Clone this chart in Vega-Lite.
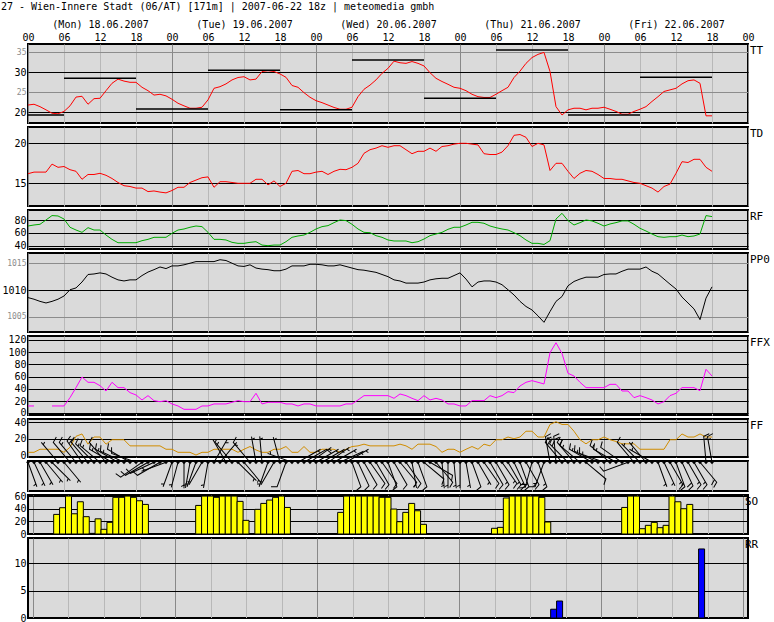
{
"$schema": "https://vega.github.io/schema/vega-lite/v6.json",
"padding": {"left": 0, "top": 2, "right": 0, "bottom": 0},
"background": "white",
"bounds": "flush",
"title": {"text": "27 - Wien-Innere Stadt (06/AT) [171m]  | 2007-06-22 18z | meteomedia gmbh", "anchor": "start", "frame": "bounds", "font": "DejaVu Sans Mono", "fontSize": 10, "fontWeight": "normal", "color": "#000000", "offset": 6},
"config": {
 "font": "DejaVu Sans Mono",
 "view": {"fill": "#dadada", "stroke": "#000000", "strokeWidth": 2},
 "axis": {"labelFontSize": 10, "labelColor": "#000000", "labelPadding": 2, "gridWidth": 1, "gridOpacity": 1}
},
"spacing": 4,
"datasets": {
"mm": [{"a":0,"b":6,"t":19.3},{"a":6,"b":18,"t":28.5},{"a":18,"b":30,"t":20.8},{"a":30,"b":42,"t":30.5},{"a":42,"b":54,"t":20.6},{"a":54,"b":66,"t":33.1},{"a":66,"b":78,"t":23.5},{"a":78,"b":90,"t":35.6},{"a":90,"b":102,"t":19.3},{"a":102,"b":114,"t":28.75}],
"met": [
{"h":0,"tt":21.8,"td":16.2,"rf":71,"pp":1008.6,"fx":12,"ff":4,"dd":160},
{"h":1,"tt":22.0,"td":16.4,"rf":72.6,"pp":1008.3,"fx":12,"ff":4,"dd":155},
{"h":2,"tt":21.4,"td":16.4,"rf":73.7,"pp":1007.9,"fx":null,"ff":7.6,"dd":150},
{"h":3,"tt":20.6,"td":16.4,"rf":80.5,"pp":1007.6,"fx":null,"ff":7.6,"dd":140},
{"h":4,"tt":19.75,"td":17.4,"rf":87.4,"pp":1007.9,"fx":12,"ff":7.6,"dd":135,"so":31},
{"h":5,"tt":19.6,"td":17.0,"rf":86.8,"pp":1008.3,"fx":12,"ff":7.6,"dd":320,"so":41.6},
{"h":6,"tt":20.2,"td":17.1,"rf":82,"pp":1008.9,"fx":12,"ff":4,"dd":140,"so":60},
{"h":7,"tt":21.6,"td":16.7,"rf":69,"pp":1010.06,"fx":25.6,"ff":10,"dd":320,"so":32},
{"h":8,"tt":23.8,"td":16.5,"rf":64.7,"pp":1010.4,"fx":42,"ff":22.8,"dd":320,"so":51},
{"h":9,"tt":24.0,"td":15.5,"rf":61,"pp":1011.5,"fx":59.4,"ff":25.6,"dd":325,"so":27.4},
{"h":10,"tt":22.0,"td":16.1,"rf":68.4,"pp":1012.9,"fx":50.7,"ff":13.6,"dd":320,"so":1},
{"h":11,"tt":23.4,"td":16.1,"rf":64.7,"pp":1013.0,"fx":50.7,"ff":22,"dd":315,"so":24},
{"h":12,"tt":23.5,"td":16.25,"rf":64.7,"pp":1013.2,"fx":45.2,"ff":22,"dd":310,"so":7.4},
{"h":13,"tt":25.4,"td":16.0,"rf":56.8,"pp":1013.0,"fx":36.5,"ff":13.6,"dd":320,"so":18.4},
{"h":14,"tt":27.25,"td":15.6,"rf":50,"pp":1012.4,"fx":50.7,"ff":18.8,"dd":300,"so":58},
{"h":15,"tt":28.3,"td":15.1,"rf":44.7,"pp":1011.9,"fx":42,"ff":18.8,"dd":300,"so":58},
{"h":16,"tt":27.8,"td":14.7,"rf":44.7,"pp":1011.7,"fx":42,"ff":18.8,"dd":295,"so":60},
{"h":17,"tt":27.5,"td":14.6,"rf":44.7,"pp":1011.9,"fx":33.8,"ff":11.6,"dd":300,"so":58},
{"h":18,"tt":27.5,"td":14.4,"rf":44.7,"pp":1011.9,"fx":30,"ff":11.6,"dd":290,"so":52.6},
{"h":19,"tt":26.25,"td":14.4,"rf":47.9,"pp":1012.7,"fx":21.8,"ff":11.6,"dd":235,"so":46.8},
{"h":20,"tt":25.4,"td":13.96,"rf":50,"pp":1013.35,"fx":28.9,"ff":11.6,"dd":240},
{"h":21,"tt":24.3,"td":14.04,"rf":53.2,"pp":1013.8,"fx":20.7,"ff":11.6,"dd":245},
{"h":22,"tt":24.5,"td":13.9,"rf":53.2,"pp":1014.3,"fx":19,"ff":11.6,"dd":240},
{"h":23,"tt":24.1,"td":13.8,"rf":53.2,"pp":1014.0,"fx":20.7,"ff":7.6,"dd":250},
{"h":24,"tt":23.25,"td":14.1,"rf":59.5,"pp":1014.5,"fx":15.3,"ff":7.6,"dd":200},
{"h":25,"tt":22.25,"td":14.5,"rf":64.7,"pp":1014.5,"fx":12,"ff":4,"dd":195},
{"h":26,"tt":21.6,"td":14.5,"rf":66.3,"pp":1014.7,"fx":6.5,"ff":4,"dd":180},
{"h":27,"tt":21.0,"td":15.1,"rf":69,"pp":1015.0,"fx":6.5,"ff":4,"dd":190},
{"h":28,"tt":21.0,"td":15.4,"rf":71,"pp":1015.3,"fx":6.5,"ff":0.8,"dd":200,"so":45.2},
{"h":29,"tt":21.25,"td":15.7,"rf":70,"pp":1015.3,"fx":12,"ff":4,"dd":210,"so":60},
{"h":30,"tt":23.1,"td":15.8,"rf":61,"pp":1015.3,"fx":12,"ff":4,"dd":190,"so":60},
{"h":31,"tt":26.0,"td":14.5,"rf":50,"pp":1015.3,"fx":15.3,"ff":7.6,"dd":30,"so":58},
{"h":32,"tt":26.4,"td":15.2,"rf":50,"pp":1015.65,"fx":15.3,"ff":7.6,"dd":40,"so":60},
{"h":33,"tt":27.1,"td":15.2,"rf":49,"pp":1015.5,"fx":15.3,"ff":7.6,"dd":330,"so":60},
{"h":34,"tt":28.1,"td":15.1,"rf":45.3,"pp":1015.0,"fx":18,"ff":7.6,"dd":320,"so":60},
{"h":35,"tt":28.7,"td":15.0,"rf":43.7,"pp":1014.5,"fx":20.7,"ff":4,"dd":135,"so":51.6},
{"h":36,"tt":28.9,"td":15.0,"rf":43.7,"pp":1014.4,"fx":19,"ff":7.6,"dd":140,"so":21.6},
{"h":37,"tt":28.1,"td":15.0,"rf":45.3,"pp":1014.7,"fx":19,"ff":10.8,"dd":320},
{"h":38,"tt":28.3,"td":15.5,"rf":46.3,"pp":1014.1,"fx":32.7,"ff":6.8,"dd":350,"so":39},
{"h":39,"tt":30.2,"td":15.5,"rf":41,"pp":1013.9,"fx":15.3,"ff":4,"dd":355,"so":48.4},
{"h":40,"tt":30.4,"td":14.8,"rf":40,"pp":1013.8,"fx":18,"ff":4,"dd":200,"so":53.7},
{"h":41,"tt":30.2,"td":15.3,"rf":41,"pp":1013.6,"fx":18,"ff":7.6,"dd":210,"so":58},
{"h":42,"tt":29.6,"td":14.6,"rf":41,"pp":1013.6,"fx":18,"ff":7.6,"dd":345,"so":60},
{"h":43,"tt":28.75,"td":15.0,"rf":46.3,"pp":1013.9,"fx":15.3,"ff":10.8,"dd":200,"so":42},
{"h":44,"tt":26.7,"td":16.5,"rf":53.2,"pp":1014.5,"fx":15.3,"ff":4,"dd":290},
{"h":45,"tt":26.25,"td":16.6,"rf":55.3,"pp":1014.5,"fx":12,"ff":4,"dd":60},
{"h":46,"tt":24.9,"td":16.2,"rf":56.8,"pp":1014.5,"fx":15.3,"ff":10.8,"dd":60},
{"h":47,"tt":23.75,"td":16.2,"rf":61,"pp":1014.8,"fx":15.3,"ff":4,"dd":55},
{"h":48,"tt":22.9,"td":16.4,"rf":66.3,"pp":1014.8,"fx":12,"ff":4,"dd":60},
{"h":49,"tt":22.4,"td":16.5,"rf":70,"pp":1014.7,"fx":12,"ff":7.6,"dd":60},
{"h":50,"tt":21.8,"td":16.1,"rf":71.6,"pp":1014.5,"fx":12,"ff":7.6,"dd":55},
{"h":51,"tt":21.2,"td":16.5,"rf":76.3,"pp":1014.5,"fx":12,"ff":7.6,"dd":60},
{"h":52,"tt":20.75,"td":16.75,"rf":80.5,"pp":1014.7,"fx":12,"ff":4,"dd":65,"so":34.2},
{"h":53,"tt":20.75,"td":16.7,"rf":79.5,"pp":1014.4,"fx":15.3,"ff":7.6,"dd":60,"so":60},
{"h":54,"tt":21.25,"td":17.0,"rf":73.7,"pp":1014.1,"fx":15.3,"ff":10.8,"dd":160,"so":60},
{"h":55,"tt":23.9,"td":17.5,"rf":66.3,"pp":1013.8,"fx":21.8,"ff":11.6,"dd":155,"so":60},
{"h":56,"tt":25.75,"td":18.75,"rf":61,"pp":1013.7,"fx":28.9,"ff":13.6,"dd":150,"so":60},
{"h":57,"tt":26.8,"td":19.2,"rf":60.5,"pp":1013.5,"fx":28.9,"ff":11.6,"dd":145,"so":60},
{"h":58,"tt":28.1,"td":19.4,"rf":55.8,"pp":1013.3,"fx":28.9,"ff":11.6,"dd":150,"so":60},
{"h":59,"tt":29.75,"td":19.7,"rf":53.2,"pp":1012.9,"fx":28.9,"ff":11.6,"dd":145,"so":58},
{"h":60,"tt":31.0,"td":19.5,"rf":49,"pp":1012.5,"fx":28.9,"ff":11.6,"dd":160,"so":58},
{"h":61,"tt":32.8,"td":19.7,"rf":47.4,"pp":1011.9,"fx":24.5,"ff":11.6,"dd":150,"so":39.5},
{"h":62,"tt":32.4,"td":19.7,"rf":47.4,"pp":1011.7,"fx":31.6,"ff":13.6,"dd":140,"so":19.5},
{"h":63,"tt":32.25,"td":19.2,"rf":47.4,"pp":1011.3,"fx":28.9,"ff":11.6,"dd":145,"so":34.2},
{"h":64,"tt":32.7,"td":18.7,"rf":44.7,"pp":1011.3,"fx":24.5,"ff":7.6,"dd":170,"so":48.4},
{"h":65,"tt":32.25,"td":19.0,"rf":46.3,"pp":1011.3,"fx":20.7,"ff":13.6,"dd":160,"so":36.8},
{"h":66,"tt":31.6,"td":19.0,"rf":50.5,"pp":1011.5,"fx":28.9,"ff":13.6,"dd":130,"so":15.3},
{"h":67,"tt":29.9,"td":19.4,"rf":55.8,"pp":1011.9,"fx":21.8,"ff":13.6,"dd":120},
{"h":68,"tt":28.5,"td":19.0,"rf":58.4,"pp":1012.1,"fx":24.5,"ff":10.8,"dd":140},
{"h":69,"tt":27.7,"td":19.6,"rf":61,"pp":1012.2,"fx":21.8,"ff":4,"dd":175},
{"h":70,"tt":27.0,"td":19.7,"rf":65.8,"pp":1012.2,"fx":15.3,"ff":7.6,"dd":180},
{"h":71,"tt":26.25,"td":19.9,"rf":69,"pp":1012.7,"fx":15.3,"ff":7.6,"dd":175},
{"h":72,"tt":26.0,"td":20.0,"rf":69,"pp":1013.2,"fx":12,"ff":4,"dd":180},
{"h":73,"tt":25.4,"td":20.0,"rf":72.6,"pp":1012.05,"fx":12,"ff":7.6,"dd":170},
{"h":74,"tt":24.5,"td":19.9,"rf":76.8,"pp":1010.6,"fx":20.7,"ff":10.8,"dd":160},
{"h":75,"tt":23.9,"td":19.8,"rf":76.8,"pp":1011.5,"fx":20.7,"ff":7.6,"dd":150},
{"h":76,"tt":23.7,"td":18.7,"rf":75.3,"pp":1011.7,"fx":20.7,"ff":13.6,"dd":145},
{"h":77,"tt":23.7,"td":18.6,"rf":71,"pp":1011.7,"fx":28.9,"ff":11.6,"dd":150},
{"h":78,"tt":24.5,"td":18.6,"rf":68.4,"pp":1011.5,"fx":25.6,"ff":18.8,"dd":150,"so":9},
{"h":79,"tt":25.4,"td":18.9,"rf":66.3,"pp":1011.0,"fx":28.9,"ff":18.8,"dd":145,"so":10.5},
{"h":80,"tt":26.25,"td":19.7,"rf":64.7,"pp":1010.06,"fx":35.4,"ff":22,"dd":150,"so":57},
{"h":81,"tt":28.7,"td":21.0,"rf":60.5,"pp":1009.1,"fx":33.8,"ff":20,"dd":155,"so":60},
{"h":82,"tt":30.3,"td":21.1,"rf":55.8,"pp":1007.9,"fx":44.7,"ff":22,"dd":160,"so":60},
{"h":83,"tt":32.25,"td":20.75,"rf":49,"pp":1006.95,"fx":50.7,"ff":28.8,"dd":150,"so":60},
{"h":84,"tt":33.7,"td":19.6,"rf":43.7,"pp":1006.3,"fx":53.4,"ff":28.8,"dd":195,"so":60},
{"h":85,"tt":34.5,"td":20.0,"rf":43.7,"pp":1005.2,"fx":50.7,"ff":22,"dd":160,"so":60},
{"h":86,"tt":35.0,"td":19.8,"rf":42,"pp":1004.0,"fx":48,"ff":22,"dd":200,"so":58},
{"h":87,"tt":30.2,"td":16.6,"rf":47.9,"pp":1006.0,"fx":99.2,"ff":36.8,"dd":350,"so":19},
{"h":88,"tt":21.4,"td":17.5,"rf":82,"pp":1007.9,"fx":115.5,"ff":40,"dd":355,"rr":1.6},
{"h":89,"tt":19.3,"td":17.5,"rf":91,"pp":1008.8,"fx":98,"ff":36.8,"dd":320,"rr":3.1},
{"h":90,"tt":20.6,"td":16.5,"rf":79.5,"pp":1010.8,"fx":65.4,"ff":36.8,"dd":315},
{"h":91,"tt":21.0,"td":15.6,"rf":72.6,"pp":1011.6,"fx":61,"ff":28.8,"dd":320},
{"h":92,"tt":21.0,"td":16.25,"rf":76.3,"pp":1012.05,"fx":50.7,"ff":18.8,"dd":310},
{"h":93,"tt":20.6,"td":16.6,"rf":80.5,"pp":1012.4,"fx":42,"ff":14,"dd":130},
{"h":94,"tt":21.0,"td":16.5,"rf":79,"pp":1012.4,"fx":42,"ff":18.8,"dd":300},
{"h":95,"tt":21.0,"td":16.1,"rf":75.3,"pp":1012.4,"fx":42,"ff":18.8,"dd":295},
{"h":96,"tt":21.25,"td":15.6,"rf":71,"pp":1012.9,"fx":42,"ff":22,"dd":290},
{"h":97,"tt":20.75,"td":15.6,"rf":74.2,"pp":1013.0,"fx":47.4,"ff":18.8,"dd":310},
{"h":98,"tt":20.2,"td":15.5,"rf":76.3,"pp":1013.0,"fx":47.4,"ff":16.8,"dd":300},
{"h":99,"tt":19.5,"td":15.5,"rf":79,"pp":1013.5,"fx":36.5,"ff":14,"dd":305},
{"h":100,"tt":19.5,"td":15.3,"rf":79,"pp":1013.9,"fx":36.5,"ff":14,"dd":250,"so":42},
{"h":101,"tt":20.2,"td":15.1,"rf":73.7,"pp":1013.9,"fx":25.6,"ff":14,"dd":320,"so":60},
{"h":102,"tt":20.75,"td":15.0,"rf":67.4,"pp":1013.9,"fx":28.9,"ff":7.6,"dd":315,"so":60},
{"h":103,"tt":21.4,"td":14.7,"rf":63.1,"pp":1014.3,"fx":25.6,"ff":7.6,"dd":320,"so":8.4},
{"h":104,"tt":22.7,"td":14.4,"rf":58.4,"pp":1013.5,"fx":21.8,"ff":7.6,"dd":300,"so":13.7},
{"h":105,"tt":23.9,"td":13.9,"rf":54.2,"pp":1013.0,"fx":15.3,"ff":7.6,"dd":160,"so":18.4},
{"h":106,"tt":25.2,"td":14.6,"rf":53.2,"pp":1012.05,"fx":19,"ff":7.6,"dd":155,"so":10},
{"h":107,"tt":25.6,"td":14.9,"rf":54.2,"pp":1011.1,"fx":28.9,"ff":18.8,"dd":150,"so":13.7},
{"h":108,"tt":26.0,"td":16.25,"rf":54.2,"pp":1010.2,"fx":32.7,"ff":18.8,"dd":160,"so":60},
{"h":109,"tt":27.1,"td":17.7,"rf":56.8,"pp":1008.7,"fx":42,"ff":25.6,"dd":155,"so":51},
{"h":110,"tt":27.9,"td":17.6,"rf":54.2,"pp":1007.6,"fx":42,"ff":22,"dd":150,"so":40},
{"h":111,"tt":28.1,"td":18.0,"rf":55.3,"pp":1006.5,"fx":42,"ff":22,"dd":150,"so":46.8},
{"h":112,"tt":27.25,"td":18.0,"rf":58.4,"pp":1004.5,"fx":37,"ff":25.6,"dd":140},
{"h":113,"tt":19.1,"td":17.0,"rf":87.4,"pp":1008.5,"fx":72,"ff":22,"dd":355,"rr":12.6},
{"h":114,"tt":19.1,"td":16.5,"rf":85.8,"pp":1010.6,"fx":61,"ff":22,"dd":350}
]},
"vconcat": [
{"width": 720, "height": 79, "data": {"name": "met"},
 "layer": [
  {"mark": {"type": "line", "color": "#ff0000", "strokeWidth": 1},
   "encoding": {
    "x": {"field": "h", "type": "quantitative", "scale": {"domain": [0, 120], "nice": false, "zero": false},
      "axis": {"orient": "top", "tickCount": 200, "values": [0,6,12,18,24,30,36,42,48,54,60,66,72,78,84,90,96,102,108,114,120], "labelExpr": "datum.value % 24 === 12 ? [['(Mon) 18.06.2007','(Tue) 19.06.2007','(Wed) 20.06.2007','(Thu) 21.06.2007','(Fri) 22.06.2007'][floor(datum.value / 24)], '12'] : ['', ((datum.value % 24) < 10 ? '0' : '') + (datum.value % 24)]", "labelFlush": false, "labelOverlap": false, "labelBound": false, "labelPadding": 15, "labelLineHeight": 13, "ticks": false, "domain": false, "title": null, "grid": true, "gridColor": {"condition": {"test": "datum.value % 24 === 0", "value": "#888888"}, "value": "#b8b8b8"}}},
    "y": {"field": "tt", "type": "quantitative", "scale": {"domain": [17.3, 37.1], "nice": false, "zero": false},
      "axis": {"values": [20, 25, 30, 35], "format": "d", "tickCount": 200, "labelOverlap": false, "title": null, "ticks": false, "domain": false, "grid": true, "minExtent": 26, "maxExtent": 26,
        "gridColor": {"condition": {"test": "datum.value % 10 === 5", "value": "#8c8c8c"}, "value": "#000000"},
        "labelColor": {"condition": {"test": "datum.value % 10 === 5", "value": "#8c8c8c"}, "value": "#000000"},
        "labelFontSize": {"condition": {"test": "datum.value % 10 === 5", "value": 8}, "value": 10}}}
   }},
  {"data": {"name": "mm"}, "mark": {"type": "rule", "color": "#000000", "strokeWidth": 1.5},
   "encoding": {"x": {"field": "a", "type": "quantitative"}, "x2": {"field": "b"}, "y": {"field": "t", "type": "quantitative"}}},
  {"data": {"values": [{"t": "TT"}]}, "mark": {"type": "text", "align": "left", "baseline": "top", "dx": 2, "dy": 1, "fontSize": 11, "color": "#000000"},
   "encoding": {"x": {"datum": 120}, "y": {"datum": 37.1}, "text": {"field": "t", "type": "nominal"}}}
 ]},
{"width": 720, "height": 79, "data": {"name": "met"},
 "layer": [
  {"mark": {"type": "line", "color": "#ff0000", "strokeWidth": 1},
   "encoding": {
    "x": {"field": "h", "type": "quantitative", "scale": {"domain": [0, 120], "nice": false, "zero": false},
      "axis": {"tickCount": 200, "values": [0,6,12,18,24,30,36,42,48,54,60,66,72,78,84,90,96,102,108,114,120], "labels": false, "ticks": false, "domain": false, "title": null, "grid": true, "gridColor": {"condition": {"test": "datum.value % 24 === 0", "value": "#888888"}, "value": "#b8b8b8"}}},
    "y": {"field": "td", "type": "quantitative", "scale": {"domain": [12.16, 22.04], "nice": false, "zero": false},
      "axis": {"values": [15, 20], "format": "d", "tickCount": 200, "labelOverlap": false, "title": null, "ticks": false, "domain": false, "grid": true, "gridColor": "#000000", "minExtent": 26, "maxExtent": 26}}
   }},
  {"data": {"values": [{"t": "TD"}]}, "mark": {"type": "text", "align": "left", "baseline": "top", "dx": 2, "dy": 1, "fontSize": 11, "color": "#000000"},
   "encoding": {"x": {"datum": 120}, "y": {"datum": 22.04}, "text": {"field": "t", "type": "nominal"}}}
 ]},
{"width": 720, "height": 39, "data": {"name": "met"},
 "layer": [
  {"mark": {"type": "line", "color": "#00aa00", "strokeWidth": 1},
   "encoding": {
    "x": {"field": "h", "type": "quantitative", "scale": {"domain": [0, 120], "nice": false, "zero": false},
      "axis": {"tickCount": 200, "values": [0,6,12,18,24,30,36,42,48,54,60,66,72,78,84,90,96,102,108,114,120], "labels": false, "ticks": false, "domain": false, "title": null, "grid": true, "gridColor": {"condition": {"test": "datum.value % 24 === 0", "value": "#888888"}, "value": "#b8b8b8"}}},
    "y": {"field": "rf", "type": "quantitative", "scale": {"domain": [34.8, 96.2], "nice": false, "zero": false},
      "axis": {"values": [40, 60, 80], "format": "d", "tickCount": 200, "labelOverlap": false, "title": null, "ticks": false, "domain": false, "grid": true, "gridColor": "#000000", "minExtent": 26, "maxExtent": 26}}
   }},
  {"data": {"values": [{"t": "RF"}]}, "mark": {"type": "text", "align": "left", "baseline": "top", "dx": 2, "dy": 1, "fontSize": 11, "color": "#000000"},
   "encoding": {"x": {"datum": 120}, "y": {"datum": 96.2}, "text": {"field": "t", "type": "nominal"}}}
 ]},
{"width": 720, "height": 79, "data": {"name": "met"},
 "layer": [
  {"mark": {"type": "line", "color": "#000000", "strokeWidth": 1},
   "encoding": {
    "x": {"field": "h", "type": "quantitative", "scale": {"domain": [0, 120], "nice": false, "zero": false},
      "axis": {"tickCount": 200, "values": [0,6,12,18,24,30,36,42,48,54,60,66,72,78,84,90,96,102,108,114,120], "labels": false, "ticks": false, "domain": false, "title": null, "grid": true, "gridColor": {"condition": {"test": "datum.value % 24 === 0", "value": "#888888"}, "value": "#b8b8b8"}}},
    "y": {"field": "pp", "type": "quantitative", "scale": {"domain": [1002.2, 1016.9], "nice": false, "zero": false},
      "axis": {"values": [1005, 1010, 1015], "format": "d", "tickCount": 200, "labelOverlap": false, "title": null, "ticks": false, "domain": false, "grid": true, "minExtent": 26, "maxExtent": 26,
        "gridColor": {"condition": {"test": "datum.value !== 1010", "value": "#8c8c8c"}, "value": "#000000"},
        "labelColor": {"condition": {"test": "datum.value !== 1010", "value": "#8c8c8c"}, "value": "#000000"},
        "labelFontSize": {"condition": {"test": "datum.value !== 1010", "value": 8}, "value": 10}}}
   }},
  {"data": {"values": [{"t": "PP0"}]}, "mark": {"type": "text", "align": "left", "baseline": "top", "dx": 2, "dy": 1, "fontSize": 11, "color": "#000000"},
   "encoding": {"x": {"datum": 120}, "y": {"datum": 1016.9}, "text": {"field": "t", "type": "nominal"}}}
 ]},
{"width": 720, "height": 79, "data": {"name": "met"},
 "layer": [
  {"mark": {"type": "line", "color": "#ff00ff", "strokeWidth": 1, "invalid": "break-paths-filter-domains"},
   "encoding": {
    "x": {"field": "h", "type": "quantitative", "scale": {"domain": [0, 120], "nice": false, "zero": false},
      "axis": {"tickCount": 200, "values": [0,6,12,18,24,30,36,42,48,54,60,66,72,78,84,90,96,102,108,114,120], "labels": false, "ticks": false, "domain": false, "title": null, "grid": true, "gridColor": {"condition": {"test": "datum.value % 24 === 0", "value": "#888888"}, "value": "#b8b8b8"}}},
    "y": {"field": "fx", "type": "quantitative", "scale": {"domain": [-2.8, 126.5], "nice": false, "zero": false},
      "axis": {"values": [0, 20, 40, 60, 80, 100, 120], "format": "d", "tickCount": 200, "labelOverlap": false, "title": null, "ticks": false, "domain": false, "grid": true, "gridColor": "#000000", "minExtent": 26, "maxExtent": 26,
        "labelOffset": {"condition": {"test": "datum.value === 0", "value": -1}, "value": 0}}}
   }},
  {"data": {"values": [{"t": "FFX"}]}, "mark": {"type": "text", "align": "left", "baseline": "top", "dx": 2, "dy": 1, "fontSize": 11, "color": "#000000"},
   "encoding": {"x": {"datum": 120}, "y": {"datum": 126.5}, "text": {"field": "t", "type": "nominal"}}}
 ]},
{"width": 720, "height": 38, "data": {"name": "met"},
 "layer": [
  {"mark": {"type": "line", "color": "#d08c00", "strokeWidth": 1},
   "encoding": {
    "x": {"field": "h", "type": "quantitative", "scale": {"domain": [0, 120], "nice": false, "zero": false},
      "axis": {"tickCount": 200, "values": [0,6,12,18,24,30,36,42,48,54,60,66,72,78,84,90,96,102,108,114,120], "labels": false, "ticks": false, "domain": false, "title": null, "grid": true, "gridColor": {"condition": {"test": "datum.value % 24 === 0", "value": "#888888"}, "value": "#b8b8b8"}}},
    "y": {"field": "ff", "type": "quantitative", "scale": {"domain": [-1.5, 43.2], "nice": false, "zero": false},
      "axis": {"values": [0, 20, 40], "format": "d", "tickCount": 200, "labelOverlap": false, "title": null, "ticks": false, "domain": false, "grid": true, "gridColor": "#000000", "minExtent": 26, "maxExtent": 26,
        "labelOffset": {"condition": {"test": "datum.value === 40", "value": 1}, "value": 0}}}
   }},
  {"data": {"values": [{"t": "FF"}]}, "mark": {"type": "text", "align": "left", "baseline": "top", "dx": 2, "dy": 1, "fontSize": 11, "color": "#000000"},
   "encoding": {"x": {"datum": 120}, "y": {"datum": 43.2}, "text": {"field": "t", "type": "nominal"}}}
 ]},
{"width": 720, "height": 30, "data": {"name": "met"},
 "encoding": {
   "x": {"field": "h", "type": "quantitative", "scale": {"domain": [0, 120], "nice": false, "zero": false},
      "axis": {"tickCount": 200, "values": [0,6,12,18,24,30,36,42,48,54,60,66,72,78,84,90,96,102,108,114,120], "labels": false, "ticks": false, "domain": false, "title": null, "grid": true, "gridColor": {"condition": {"test": "datum.value % 24 === 0", "value": "#888888"}, "value": "#b8b8b8"}}},
   "y": {"datum": 0.957, "type": "quantitative", "scale": {"domain": [0, 1], "nice": false, "zero": false},
      "axis": {"title": null, "labels": false, "ticks": false, "domain": false, "grid": false, "minExtent": 26, "maxExtent": 26}}
 },
 "layer": [
  {"mark": {"type": "point", "shape": "diamond", "filled": true, "color": "#000000", "size": 14, "opacity": 1}},
  {"transform": [{"filter": "datum.ff <= 8"}],
   "mark": {"type": "point", "shape": "M0,0L0,-1M0,-0.88L0.11,-0.93", "filled": false, "stroke": "#000000", "strokeWidth": 1, "size": 2704, "opacity": 1},
   "encoding": {"angle": {"field": "dd", "type": "quantitative", "scale": {"domain": [0, 360], "range": [0, 360]}, "legend": null}}},
  {"transform": [{"filter": "datum.ff > 8 && datum.ff <= 15"}],
   "mark": {"type": "point", "shape": "M0,0L0,-1L0.22,-1.08", "filled": false, "stroke": "#000000", "strokeWidth": 1, "size": 2704, "opacity": 1},
   "encoding": {"angle": {"field": "dd", "type": "quantitative", "scale": {"domain": [0, 360], "range": [0, 360]}, "legend": null}}},
  {"transform": [{"filter": "datum.ff > 15 && datum.ff <= 25"}],
   "mark": {"type": "point", "shape": "M0,0L0,-1L0.22,-1.08M0,-0.87L0.11,-0.91", "filled": false, "stroke": "#000000", "strokeWidth": 1, "size": 2704, "opacity": 1},
   "encoding": {"angle": {"field": "dd", "type": "quantitative", "scale": {"domain": [0, 360], "range": [0, 360]}, "legend": null}}},
  {"transform": [{"filter": "datum.ff > 25"}],
   "mark": {"type": "point", "shape": "M0,0L0,-1L0.22,-1.08M0,-0.87L0.22,-0.95", "filled": false, "stroke": "#000000", "strokeWidth": 1, "size": 2704, "opacity": 1},
   "encoding": {"angle": {"field": "dd", "type": "quantitative", "scale": {"domain": [0, 360], "range": [0, 360]}, "legend": null}}}
 ]},
{"width": 720, "height": 39, "data": {"name": "met"},
 "layer": [
  {"mark": {"type": "bar", "color": "#ffff00", "stroke": "#000000", "strokeWidth": 1, "width": 6},
   "encoding": {
    "x": {"field": "h", "type": "quantitative", "scale": {"domain": [0, 120], "nice": false, "zero": false},
      "axis": {"tickCount": 200, "values": [0,6,12,18,24,30,36,42,48,54,60,66,72,78,84,90,96,102,108,114,120], "labels": false, "ticks": false, "domain": false, "title": null, "grid": true, "gridColor": {"condition": {"test": "datum.value % 24 === 0", "value": "#888888"}, "value": "#b8b8b8"}}},
    "y": {"field": "so", "type": "quantitative", "scale": {"domain": [0, 61.7], "nice": false, "zero": false},
      "axis": {"values": [0, 20, 40, 60], "format": "d", "tickCount": 200, "labelOverlap": false, "title": null, "ticks": false, "domain": false, "grid": true, "gridColor": "#000000", "minExtent": 26, "maxExtent": 26}}
   }},
  {"data": {"values": [{"t": "SO"}]}, "mark": {"type": "text", "align": "left", "baseline": "top", "dx": 2, "dy": 1, "fontSize": 11, "color": "#000000"},
   "encoding": {"x": {"datum": 120}, "y": {"datum": 61.7}, "text": {"field": "t", "type": "nominal"}}}
 ]},
{"width": 720, "height": 80, "data": {"name": "met"},
 "layer": [
  {"mark": {"type": "bar", "color": "#0000ff", "stroke": "#000000", "strokeWidth": 1, "width": 6},
   "encoding": {
    "x": {"field": "h", "type": "quantitative", "scale": {"domain": [0, 120], "nice": false, "zero": false},
      "axis": {"tickCount": 200, "values": [0,6,12,18,24,30,36,42,48,54,60,66,72,78,84,90,96,102,108,114,120], "labels": false, "ticks": false, "domain": false, "title": null, "grid": true, "gridColor": {"condition": {"test": "datum.value % 24 === 0", "value": "#888888"}, "value": "#b8b8b8"}}},
    "y": {"field": "rr", "type": "quantitative", "scale": {"domain": [0, 14.6], "nice": false, "zero": false},
      "axis": {"values": [0, 5, 10], "format": "d", "tickCount": 200, "labelOverlap": false, "title": null, "ticks": false, "domain": false, "grid": true, "gridColor": "#000000", "minExtent": 26, "maxExtent": 26}}
   }},
  {"data": {"values": [{"t": "RR"}]}, "mark": {"type": "text", "align": "left", "baseline": "top", "dx": 2, "dy": 1, "fontSize": 11, "color": "#000000"},
   "encoding": {"x": {"datum": 120}, "y": {"datum": 14.6}, "text": {"field": "t", "type": "nominal"}}}
 ]}
]
}
